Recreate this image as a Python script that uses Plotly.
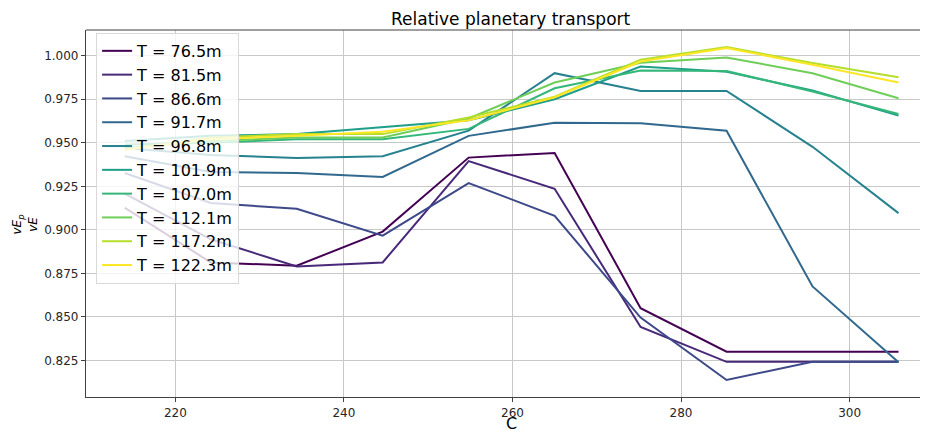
import plotly.graph_objects as go

C = [214.0, 224.2, 234.4, 244.6, 254.8, 265.0, 275.2, 285.4, 295.6, 305.8]

labels = ["T = 76.5m", "T = 81.5m", "T = 86.6m", "T = 91.7m", "T = 96.8m",
          "T = 101.9m", "T = 107.0m", "T = 112.1m", "T = 117.2m", "T = 122.3m"]

T_76_5 = [0.9127, 0.8813, 0.8794, 0.8990, 0.9415, 0.9442, 0.8550, 0.8300, 0.8300, 0.8300]
T_81_5 = [0.9208, 0.8946, 0.8790, 0.8813, 0.9395, 0.9236, 0.8442, 0.8242, 0.8242, 0.8242]
T_86_6 = [0.9327, 0.9154, 0.9121, 0.8967, 0.9269, 0.9081, 0.8496, 0.8138, 0.8242, 0.8242]
T_91_7 = [0.9423, 0.9333, 0.9327, 0.9304, 0.9540, 0.9615, 0.9613, 0.9569, 0.8675, 0.8240]
T_96_8 = [0.9470, 0.9430, 0.9413, 0.9423, 0.9570, 0.9900, 0.9798, 0.9798, 0.9477, 0.9096]
T_101_9 = [0.9510, 0.9540, 0.9550, 0.9590, 0.9630, 0.9750, 0.9938, 0.9908, 0.9800, 0.9656]
T_107_0 = [0.9490, 0.9500, 0.9520, 0.9520, 0.9580, 0.9813, 0.9915, 0.9913, 0.9795, 0.9665]
T_112_1 = [0.9470, 0.9510, 0.9530, 0.9530, 0.9640, 0.9846, 0.9960, 0.9990, 0.9900, 0.9756]
T_117_2 = [0.9460, 0.9530, 0.9550, 0.9550, 0.9646, 0.9765, 0.9977, 1.0050, 0.9958, 0.9877]
T_122_3 = [0.9460, 0.9520, 0.9540, 0.9563, 0.9630, 0.9762, 0.9967, 1.0045, 0.9948, 0.9846]

series = [T_76_5, T_81_5, T_86_6, T_91_7, T_96_8, T_101_9, T_107_0, T_112_1, T_117_2, T_122_3]

colors = ["#440154", "#482878", "#3e4989", "#31688e", "#26828e",
          "#1f9e89", "#35b779", "#6ece58", "#b5de2b", "#fde725"]

x_ticks = [220, 240, 260, 280, 300]
y_ticks = [0.825, 0.850, 0.875, 0.900, 0.925, 0.950, 0.975, 1.000]

FONT = "DejaVu Sans"

fig = go.Figure()
for i, (lab, ys) in enumerate(zip(labels, series)):
    fig.add_trace(go.Scatter(
        x=C, y=ys, mode="lines", name=lab,
        line=dict(color=colors[i], width=2),
    ))

axis_common = dict(
    showgrid=True, gridcolor="#c8c8c8", gridwidth=1,
    showline=True, linecolor="#404040", linewidth=1.2,
    ticks="outside", ticklen=4, tickcolor="#404040",
    tickfont=dict(family=FONT, size=12, color="#262626"),
    zeroline=False, automargin=False,
)

fig.update_layout(
    width=920, height=424,
    margin=dict(l=78, r=0, t=22, b=35),
    paper_bgcolor="white", plot_bgcolor="white",
    font=dict(family=FONT, color="black"),
    showlegend=True,
    legend=dict(
        x=0.012, y=0.992, xanchor="left", yanchor="top",
        bgcolor="rgba(255,255,255,0.8)", bordercolor="#d9d9d9", borderwidth=1,
        font=dict(family=FONT, size=16, color="black"),
    ),
    xaxis=dict(range=[209.4, 309.3], tickvals=x_ticks,
               ticktext=[str(v) for v in x_ticks], **axis_common),
    yaxis=dict(range=[0.8040, 1.0148], tickvals=y_ticks,
               ticktext=[f"{v:.3f}" for v in y_ticks], **axis_common),
    shapes=[
        dict(type="line", xref="paper", yref="paper", x0=0, x1=1, y0=1, y1=1,
             line=dict(color="#404040", width=1.2)),
    ],
    annotations=[
        dict(text="Relative planetary transport", xref="paper", yref="paper",
             x=0.5053, y=1.0, yshift=11, xanchor="center", yanchor="middle",
             showarrow=False, font=dict(family=FONT, size=17, color="black")),
        dict(text="C", xref="paper", yref="paper", x=0.5053, y=0, yshift=-26,
             xanchor="center", yanchor="middle", showarrow=False,
             font=dict(family=FONT, size=16, color="black")),
        dict(text="<i>vE<sub>p</sub></i><br><i>vE</i>", xref="paper", yref="paper",
             x=0, xshift=-61, y=0.47, xanchor="center", yanchor="middle",
             textangle=-90, showarrow=False,
             font=dict(family=FONT, size=12, color="black")),
    ],
)

fig.write_html("out.html")
